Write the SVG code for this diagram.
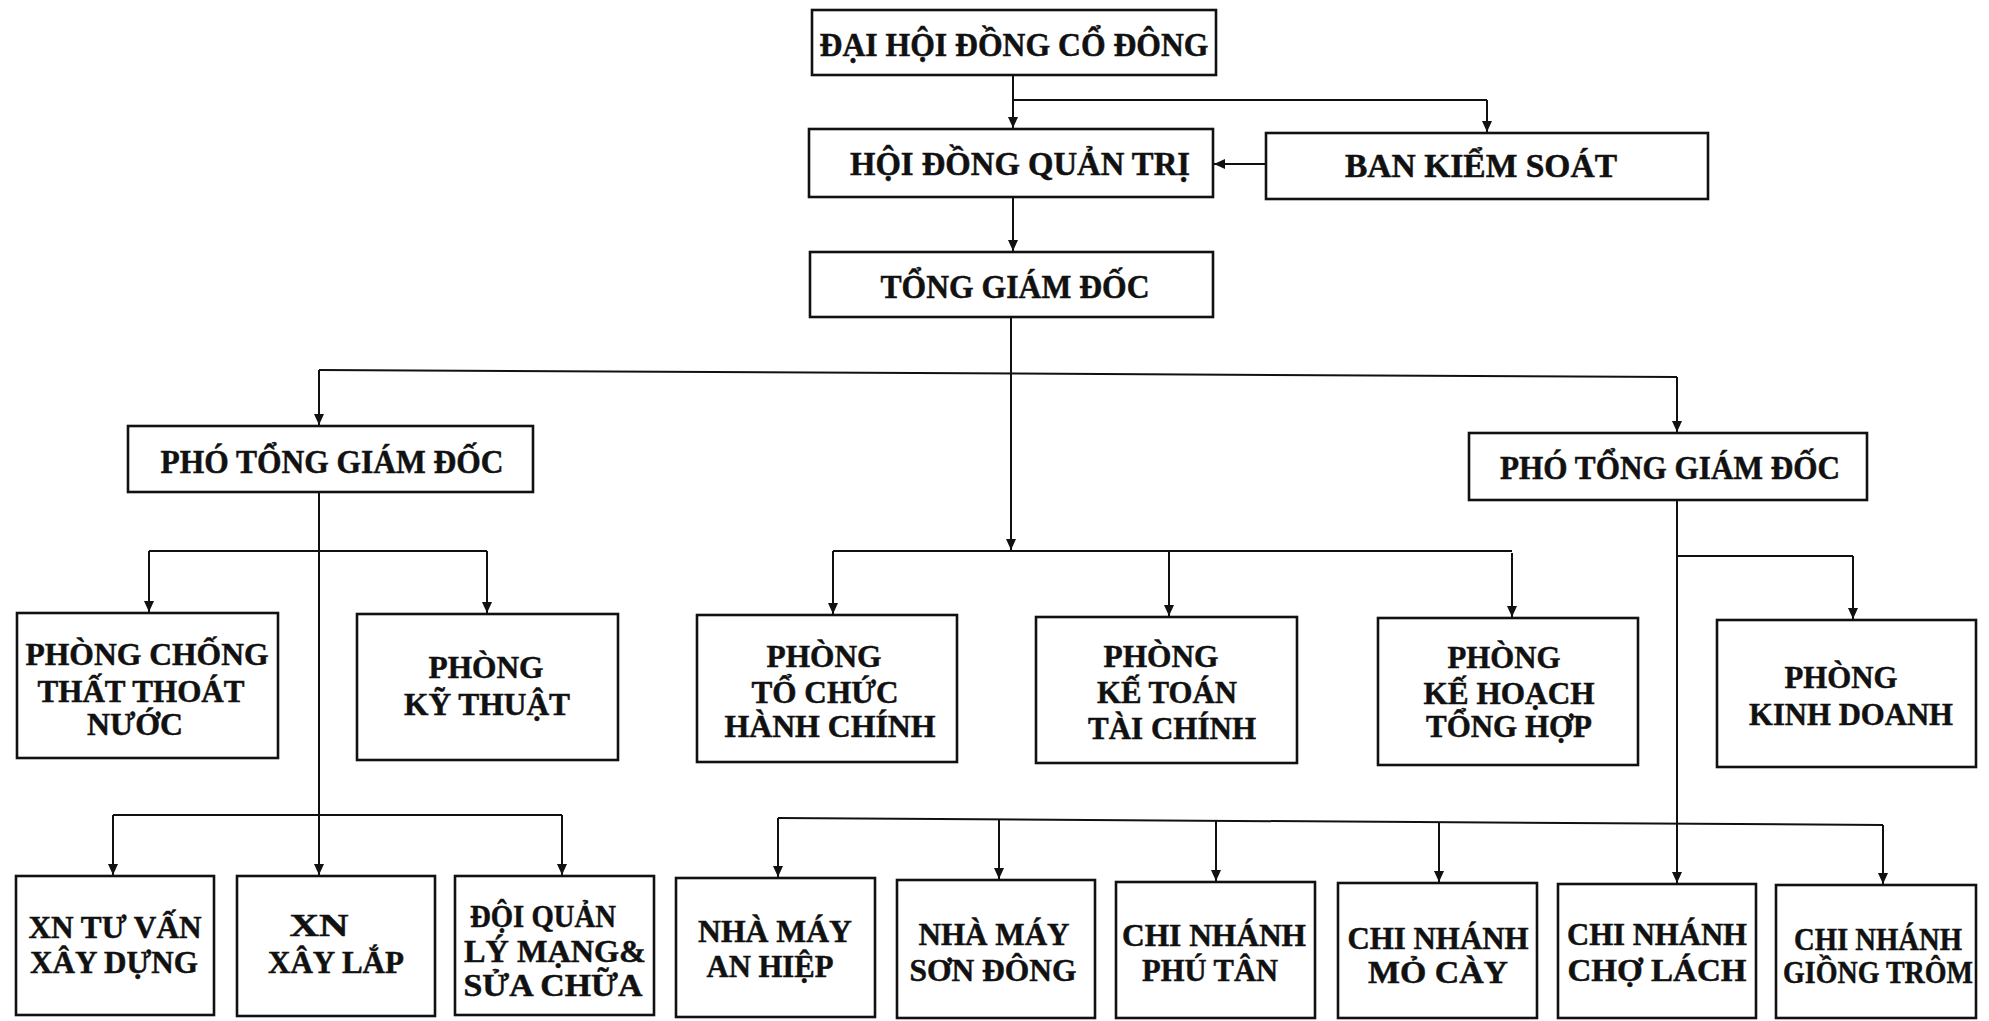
<svg xmlns="http://www.w3.org/2000/svg" width="1989" height="1021" viewBox="0 0 1989 1021">
<style>
.bx{fill:#fff;stroke:#111;stroke-width:2.6}
.t{font-family:"Liberation Serif","DejaVu Serif",serif;font-weight:bold;font-size:32px;fill:#111;stroke:#111;stroke-width:0.5;text-anchor:middle}
.tb{font-size:34.5px}
.tp{font-size:33px}
.c{fill:none;stroke:#111;stroke-width:2}
.a{fill:none;stroke:#111;stroke-width:2;marker-end:url(#ah)}
</style>
<defs>
<marker id="ah" markerWidth="11" markerHeight="10" refX="11" refY="5" orient="auto" markerUnits="userSpaceOnUse"><path d="M0,0 L11,5 L0,10 z" fill="#111"/></marker>
</defs>
<rect width="1989" height="1021" fill="#fff"/>
<g id="connectors">
<path class="a" d="M1013,75 V128"/>
<path class="c" d="M1013,100 H1487"/>
<path class="a" d="M1487,100 V132"/>
<path class="a" d="M1266,164 H1214"/>
<path class="a" d="M1013,197 V251"/>
<path class="a" d="M1011,317 V550"/>
<path class="c" d="M319,370 L1677,377"/>
<path class="a" d="M319,370 V425"/>
<path class="a" d="M1677,377 V432"/>
<path class="c" d="M833,551 H1512"/>
<path class="a" d="M833,551 V614"/>
<path class="a" d="M1169,551 V616"/>
<path class="a" d="M1512,553 V617"/>
<path class="a" d="M319,492 V875"/>
<path class="c" d="M149,551 H487"/>
<path class="a" d="M149,551 V612"/>
<path class="a" d="M487,551 V613"/>
<path class="c" d="M113,815 H562"/>
<path class="a" d="M113,815 V875"/>
<path class="a" d="M562,815 V875"/>
<path class="a" d="M1677,500 V883"/>
<path class="c" d="M1677,556 H1853"/>
<path class="a" d="M1853,556 V619"/>
<path class="c" d="M778,818 L1883,825"/>
<path class="a" d="M778,818 V877"/>
<path class="a" d="M999,819 V879"/>
<path class="a" d="M1216,820 V881"/>
<path class="a" d="M1439,822 V882"/>
<path class="a" d="M1883,825 V884"/>
</g>
<g id="dhdcd"><rect class="bx" x="812" y="10" width="404" height="65"/><text class="t tb" x="1014" y="56" textLength="389" lengthAdjust="spacingAndGlyphs">ĐẠI HỘI ĐỒNG CỔ ĐÔNG</text></g>
<g id="hdqt"><rect class="bx" x="809" y="129" width="404" height="68"/><text class="t tb" x="1020" y="175" textLength="340" lengthAdjust="spacingAndGlyphs">HỘI ĐỒNG QUẢN TRỊ</text></g>
<g id="bks"><rect class="bx" x="1266" y="133" width="442" height="66"/><text class="t tb" x="1481" y="177" textLength="272" lengthAdjust="spacingAndGlyphs">BAN KIỂM SOÁT</text></g>
<g id="tgd"><rect class="bx" x="810" y="252" width="403" height="65"/><text class="t tb" x="1015" y="298" textLength="269" lengthAdjust="spacingAndGlyphs">TỔNG GIÁM ĐỐC</text></g>
<g id="ptgd1"><rect class="bx" x="128" y="426" width="405" height="66"/><text class="t tp" x="332" y="473" textLength="343" lengthAdjust="spacingAndGlyphs">PHÓ TỔNG GIÁM ĐỐC</text></g>
<g id="ptgd2"><rect class="bx" x="1469" y="433" width="398" height="67"/><text class="t tp" x="1670" y="479" textLength="340" lengthAdjust="spacingAndGlyphs">PHÓ TỔNG GIÁM ĐỐC</text></g>
<g id="pcttn"><rect class="bx" x="17" y="613" width="261" height="145"/>
<text class="t" x="147" y="665" textLength="243" lengthAdjust="spacingAndGlyphs">PHÒNG CHỐNG</text>
<text class="t" x="141" y="702" textLength="207" lengthAdjust="spacingAndGlyphs">THẤT THOÁT</text>
<text class="t" x="135" y="735" textLength="96" lengthAdjust="spacingAndGlyphs">NƯỚC</text></g>
<g id="pkt"><rect class="bx" x="357" y="614" width="261" height="146"/>
<text class="t" x="486" y="678" textLength="115" lengthAdjust="spacingAndGlyphs">PHÒNG</text>
<text class="t" x="487" y="715" textLength="166" lengthAdjust="spacingAndGlyphs">KỸ THUẬT</text></g>
<g id="ptchc"><rect class="bx" x="697" y="615" width="260" height="147"/>
<text class="t" x="824" y="667" textLength="115" lengthAdjust="spacingAndGlyphs">PHÒNG</text>
<text class="t" x="825" y="703" textLength="147" lengthAdjust="spacingAndGlyphs">TỔ CHỨC</text>
<text class="t" x="830" y="737" textLength="211" lengthAdjust="spacingAndGlyphs">HÀNH CHÍNH</text></g>
<g id="pktc"><rect class="bx" x="1036" y="617" width="261" height="146"/>
<text class="t" x="1161" y="667" textLength="115" lengthAdjust="spacingAndGlyphs">PHÒNG</text>
<text class="t" x="1167" y="703" textLength="140" lengthAdjust="spacingAndGlyphs">KẾ TOÁN</text>
<text class="t" x="1172" y="739" textLength="168" lengthAdjust="spacingAndGlyphs">TÀI CHÍNH</text></g>
<g id="pkhth"><rect class="bx" x="1378" y="618" width="260" height="147"/>
<text class="t" x="1504" y="668" textLength="113" lengthAdjust="spacingAndGlyphs">PHÒNG</text>
<text class="t" x="1509" y="704" textLength="171" lengthAdjust="spacingAndGlyphs">KẾ HOẠCH</text>
<text class="t" x="1509" y="737" textLength="166" lengthAdjust="spacingAndGlyphs">TỔNG HỢP</text></g>
<g id="pkd"><rect class="bx" x="1717" y="620" width="259" height="147"/>
<text class="t" x="1841" y="688" textLength="113" lengthAdjust="spacingAndGlyphs">PHÒNG</text>
<text class="t" x="1851" y="725" textLength="204" lengthAdjust="spacingAndGlyphs">KINH DOANH</text></g>
<g id="xntv"><rect class="bx" x="16" y="876" width="198" height="139"/>
<text class="t" x="115" y="938" textLength="173" lengthAdjust="spacingAndGlyphs">XN TƯ VẤN</text>
<text class="t" x="114" y="973" textLength="168" lengthAdjust="spacingAndGlyphs">XÂY DỰNG</text></g>
<g id="xnxl"><rect class="bx" x="237" y="876" width="198" height="140"/>
<text class="t" x="319" y="936" textLength="59" lengthAdjust="spacingAndGlyphs">XN</text>
<text class="t" x="336" y="973" textLength="136" lengthAdjust="spacingAndGlyphs">XÂY LẮP</text></g>
<g id="dqlm"><rect class="bx" x="455" y="876" width="199" height="139"/>
<text class="t" x="543" y="927" textLength="146" lengthAdjust="spacingAndGlyphs">ĐỘI QUẢN</text>
<text class="t" x="555" y="962" textLength="182" lengthAdjust="spacingAndGlyphs">LÝ MẠNG&amp;</text>
<text class="t" x="553" y="996" textLength="179" lengthAdjust="spacingAndGlyphs">SỬA CHỮA</text></g>
<g id="nmah"><rect class="bx" x="676" y="878" width="199" height="139"/>
<text class="t" x="775" y="942" textLength="154" lengthAdjust="spacingAndGlyphs">NHÀ MÁY</text>
<text class="t" x="770" y="977" textLength="127" lengthAdjust="spacingAndGlyphs">AN HIỆP</text></g>
<g id="nmsd"><rect class="bx" x="897" y="880" width="198" height="138"/>
<text class="t" x="994" y="945" textLength="151" lengthAdjust="spacingAndGlyphs">NHÀ MÁY</text>
<text class="t" x="993" y="981" textLength="167" lengthAdjust="spacingAndGlyphs">SƠN ĐÔNG</text></g>
<g id="cnpt"><rect class="bx" x="1116" y="882" width="199" height="136"/>
<text class="t" x="1214" y="946" textLength="184" lengthAdjust="spacingAndGlyphs">CHI NHÁNH</text>
<text class="t" x="1210" y="981" textLength="136" lengthAdjust="spacingAndGlyphs">PHÚ TÂN</text></g>
<g id="cnmc"><rect class="bx" x="1338" y="883" width="199" height="135"/>
<text class="t" x="1438" y="949" textLength="181" lengthAdjust="spacingAndGlyphs">CHI NHÁNH</text>
<text class="t" x="1438" y="983" textLength="140" lengthAdjust="spacingAndGlyphs">MỎ CÀY</text></g>
<g id="cncl"><rect class="bx" x="1558" y="884" width="198" height="134"/>
<text class="t" x="1657" y="945" textLength="180" lengthAdjust="spacingAndGlyphs">CHI NHÁNH</text>
<text class="t" x="1657" y="981" textLength="179" lengthAdjust="spacingAndGlyphs">CHỢ LÁCH</text></g>
<g id="cngt"><rect class="bx" x="1776" y="885" width="200" height="133"/>
<text class="t" x="1878" y="950" textLength="168" lengthAdjust="spacingAndGlyphs">CHI NHÁNH</text>
<text class="t" x="1878" y="983" textLength="190" lengthAdjust="spacingAndGlyphs">GIỒNG TRÔM</text></g>
</svg>
